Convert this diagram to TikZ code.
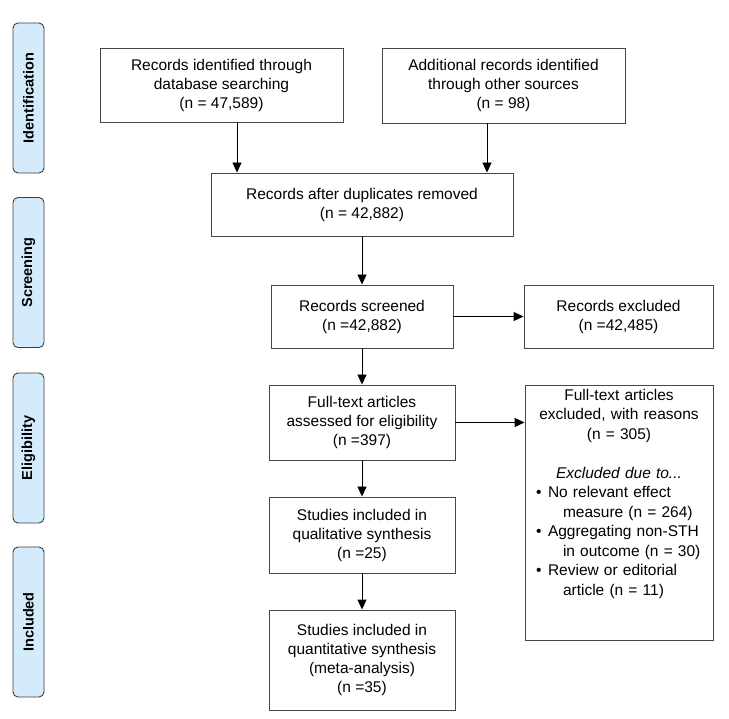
\documentclass[tikz,border=0pt]{standalone}
\usepackage{fontspec}
\setmainfont{Liberation Sans}
\usetikzlibrary{arrows.meta}

\begin{document}
\begin{tikzpicture}[x=1pt,y=1pt,yscale=-1,
  box/.style={draw={rgb, 255:red, 70; green, 70; blue, 70}, line width=0.9pt, align=center, inner sep=0pt, font=\fontsize{15.5}{19}\selectfont},
  phase/.style={draw={rgb, 255:red, 60; green, 60; blue, 60}, fill={rgb, 255:red, 212; green, 235; blue, 252}, line width=0.9pt, rounded corners=5pt, rotate=90, minimum width=150pt, minimum height=31pt, inner sep=0pt, font=\fontsize{14.5}{17}\selectfont\bfseries},
  arr/.style={-{Triangle[length=10pt,width=9pt]}, line width=0.9pt}]

\useasboundingbox (0,0) rectangle (729,719);

% phase labels on the left
\node[phase] (ident) at (28.5,98) {Identification};
\node[phase] (screen) at (28.5,272.5) {Screening};
\node[phase] (elig) at (28.5,448) {Eligibility};
\node[phase] (incl) at (28.5,622) {Included};

% flow boxes
\node[box, minimum width=243pt, minimum height=74pt] (db) at (221.5,85) {Records identified through\\database searching\\(n = 47,589)};
\node[box, minimum width=243pt, minimum height=75pt] (other) at (503.5,85.5) {Additional records identified\\through other sources\\(n = 98)};
\node[box, minimum width=302pt, minimum height=63pt] (dup) at (362,204.5) {Records after duplicates removed\\(n = 42,882)};
\node[box, minimum width=182pt, minimum height=63pt] (screened) at (362,316.5) {Records screened\\(n =42,882)};
\node[box, minimum width=189pt, minimum height=63pt] (excluded) at (618.5,316.5) {Records excluded\\(n =42,485)};
\node[box, minimum width=186pt, minimum height=75pt] (fulltext) at (362,422.5) {Full-text articles\\assessed for eligibility\\(n =397)};
\node[box, minimum width=186pt, minimum height=76pt] (qual) at (362,535) {Studies included in\\qualitative synthesis\\(n =25)};
\node[box, minimum width=186pt, minimum height=100pt] (quant) at (362,660) {Studies included in\\quantitative synthesis\\(meta-analysis)\\(n =35)};
\node[box, minimum width=188pt, minimum height=255pt] (ftexcl) at (619,512.5) {};
\node[anchor=north, text width=180pt, inner sep=0pt, font=\fontsize{15.5}{19.5}\selectfont] (ftreason) at (619,389) {%
  \centering Full-text articles\\excluded, with reasons\\(n = 305)\\[19.5pt]
  \textit{Excluded due to...}\par
  \raggedright
  \hspace*{7pt}\makebox[12pt][l]{•}No relevant effect\\
  \hspace*{34pt}measure (n = 264)\\
  \hspace*{7pt}\makebox[12pt][l]{•}Aggregating non-STH\\
  \hspace*{34pt}in outcome (n = 30)\\
  \hspace*{7pt}\makebox[12pt][l]{•}Review or editorial\\
  \hspace*{34pt}article (n = 11)\par};

% connectors
\draw[arr] ([xshift=15.5pt]db.south) -- ([xshift=15.5pt]db.south |- dup.north);
\draw[arr] ([xshift=-16.5pt]other.south) -- ([xshift=-16.5pt]other.south |- dup.north);
\draw[arr] (dup.south) -- (screened.north);
\draw[arr] (screened.east) -- (excluded.west);
\draw[arr] (screened.south) -- (fulltext.north);
\draw[arr] (fulltext.east) -- (fulltext.east -| ftexcl.west);
\draw[arr] (fulltext.south) -- (qual.north);
\draw[arr] (qual.south) -- (quant.north);

\end{tikzpicture}
\end{document}
